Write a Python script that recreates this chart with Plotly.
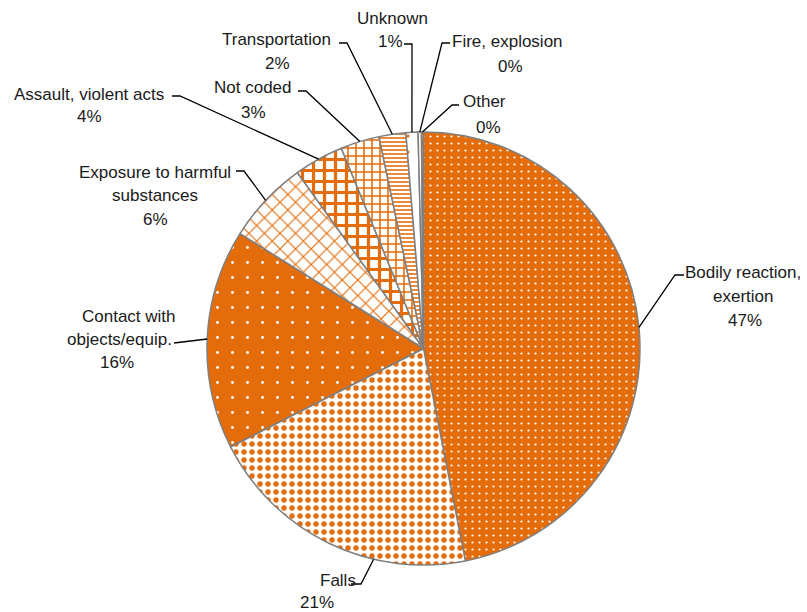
import math
import plotly.graph_objects as go

# Share of injury cases by event type (percent)
categories = [
    "Bodily reaction, exertion", "Falls", "Contact with objects/equip.",
    "Exposure to harmful substances", "Assault, violent acts", "Not coded",
    "Transportation", "Unknown", "Fire, explosion", "Other",
]
shares = [46.9, 20.6, 16.4, 6.2, 3.7, 2.9, 2.0, 0.9, 0.25, 0.15]
label_lines = [
    ["Bodily reaction,", "exertion"], ["Falls"], ["Contact with", "objects/equip."],
    ["Exposure to harmful", "substances"], ["Assault, violent acts"], ["Not coded"],
    ["Transportation"], ["Unknown"], ["Fire, explosion"], ["Other"],
]

W, H = 807, 612
ORANGE = "#E46C0A"
WHITE = "#FFFFFF"

# pie placement (pixels)
CX, CY, R = 423.5, 348.5, 216.5

# fill patterns per slice
pat_shape = [".", ".", ".", "x", "+", "+", "-", ".", ".", "."]
pat_bg = [ORANGE, WHITE, ORANGE, WHITE, WHITE, WHITE, WHITE, WHITE, WHITE, ORANGE]
pat_fg = [WHITE, ORANGE, WHITE, ORANGE, ORANGE, ORANGE, ORANGE, ORANGE, ORANGE, WHITE]
pat_size = [7, 8, 15, 11, 11, 8, 4, 16, 16, 16]
pat_solid = [0.08, 0.35, 0.03, 0.2, 0.5, 0.35, 0.4, 0.03, 0.03, 0.03]

# label line centres (pixels) and leader elbows (pixels)
label_xy = [
    [(743, 272), (743, 296), (745, 320)],
    [(338, 580), (317, 602)],
    [(129, 316), (119, 339), (117, 362)],
    [(155, 172), (155, 196), (155, 219)],
    [(89, 94), (89, 117)],
    [(253, 88), (253, 112)],
    [(276, 40), (277, 64)],
    [(392, 18), (390, 42)],
    [(508, 42), (510, 66)],
    [(484, 102), (488, 127)],
]
leader_pts = [
    [(684, 275), (675, 275)],
    [(351, 584), (361, 584)],
    [(174, 343)],
    [(236, 171), (244, 171)],
    [(172, 96), (180, 96)],
    [(298, 91), (306, 91)],
    [(339, 43), (347, 43)],
    [(404, 44), (412, 44)],
    [(450, 43), (442, 43)],
    [(459, 105), (452, 105)],
]
# where along each slice the leader meets the rim (0 = start, 1 = end)
anchor_frac = [0.5, 0.33, 0.5, 0.5, 0.5, 0.5, 0.5, 0.5, 0.5, 0.5]


def px(x, y):
    return x / W, 1 - y / H


fig = go.Figure(go.Pie(
    labels=categories,
    values=shares,
    sort=False,
    direction="clockwise",
    rotation=0,
    textinfo="none",
    hoverinfo="label+percent",
    showlegend=False,
    domain=dict(x=[(CX - R) / W, (CX + R) / W], y=[1 - (CY + R) / H, 1 - (CY - R) / H]),
    marker=dict(
        colors=pat_bg,
        line=dict(color="#7F7F7F", width=1.5),
        pattern=dict(shape=pat_shape, bgcolor=pat_bg, fgcolor=pat_fg,
                     size=pat_size, solidity=pat_solid, fillmode="replace"),
    ),
))

total = sum(shares)
annotations = []
shapes = []
cum = 0.0
for i, v in enumerate(shares):
    pct = f"{round(v / total * 100)}%"
    lines = label_lines[i] + [pct]
    for (lx, ly), txt in zip(label_xy[i], lines):
        ax, ay = px(lx, ly)
        annotations.append(dict(x=ax, y=ay, xref="paper", yref="paper", text=txt,
                                showarrow=False, xanchor="center", yanchor="middle",
                                font=dict(family="Liberation Sans Narrow, Arial Narrow, sans-serif",
                                          size=17, color="#1A1A1A")))
    ang = 2 * math.pi * (cum + anchor_frac[i] * v) / total
    ex, ey = CX + R * math.sin(ang), CY - R * math.cos(ang)
    pts = leader_pts[i] + [(ex, ey)]
    path = "M " + " L ".join(f"{px(x, y)[0]:.5f},{px(x, y)[1]:.5f}" for x, y in pts)
    shapes.append(dict(type="path", path=path, xref="paper", yref="paper",
                       line=dict(color="#000000", width=1.3)))
    cum += v

fig.update_layout(
    width=W, height=H,
    margin=dict(l=0, r=0, t=0, b=0),
    paper_bgcolor="white", plot_bgcolor="white",
    annotations=annotations, shapes=shapes,
)

fig.write_html("out.html")
